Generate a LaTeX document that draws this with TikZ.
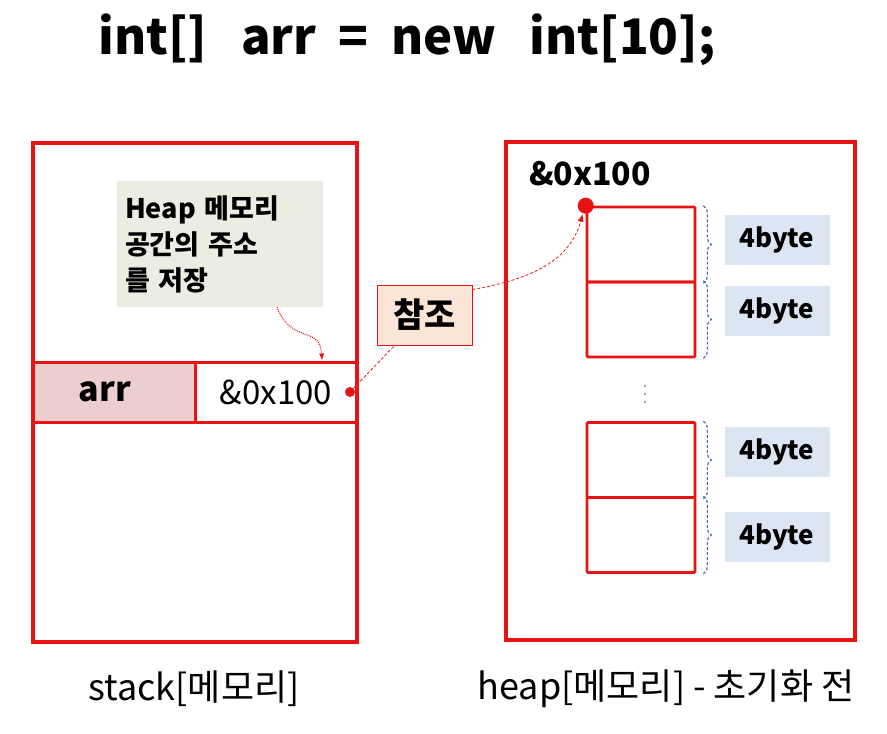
\documentclass[tikz,border=0pt]{standalone}
\usepackage{fontspec}
\setmainfont{Noto Sans CJK KR}
\usetikzlibrary{arrows.meta,decorations.pathreplacing,positioning}

\definecolor{memred}{RGB}{232,20,20}
\definecolor{arrfill}{RGB}{236,206,206}
\definecolor{notefill}{RGB}{236,236,226}
\definecolor{reffill}{RGB}{251,229,214}
\definecolor{bytefill}{RGB}{220,230,242}
\definecolor{bracecol}{RGB}{70,100,160}

\tikzset{
  memframe/.style={draw=memred, line width=3.5pt},
  rowcell/.style={draw=memred, line width=3pt, minimum width=162pt, minimum height=60pt, inner sep=0pt},
  heapcell/.style={draw=memred, line width=2.6pt, rounded corners=1pt, minimum width=108pt, minimum height=75pt, inner sep=0pt},
  bytebox/.style={fill=bytefill, minimum width=105pt, minimum height=50pt, inner sep=0pt,
    font=\bfseries\fontsize{26}{26}\selectfont},
  bytebrace/.style={draw=bracecol, dash pattern=on 3pt off 2pt, line width=1.1pt, decorate,
    decoration={brace, amplitude=8pt}},
  refline/.style={draw=memred, densely dashed, line width=0.8pt},
  memlabel/.style={font=\fontsize{36}{36}\selectfont}
}

\begin{document}
\begin{tikzpicture}[x=1pt, y=-1pt]
  \useasboundingbox (0,0) rectangle (887,734);

  % Title
  \node[font=\bfseries\fontsize{49}{49}\selectfont] (title) at (407,40) {int[]\ \ \ arr\ \ =\ \ new\ \ \ int[10];};

  % Stack memory
  \draw[memframe] (33,143) rectangle (357,642);
  \node[rowcell, fill=arrfill] (arr) at (114,392) {};
  \node[font=\bfseries\fontsize{34}{34}\selectfont] (arrtext) at (105,392) {arr};
  \node[rowcell, font=\fontsize{33}{33}\selectfont] (addr) at (276,392) {\&0x100};
  \fill[memred] (350,392) circle (5pt) coordinate (addrdot);
  \node[fill=notefill, minimum width=206pt, minimum height=126pt, text width=190pt, align=left,
    font=\bfseries\fontsize{27}{36}\selectfont] (note) at (220,244) {Heap 메모리\\공간의 주소\\를 저장};
  \draw[memred, densely dotted, line width=1pt, -{Latex[length=7pt]}]
    ([xshift=57pt]note.south) .. controls (292,345) and (320,325) .. ([xshift=46pt]addr.north);
  \node[memlabel] (stacklabel) at (194,689) {stack[메모리]};

  % Heap memory
  \draw[memframe] (506,142) rectangle (855,640);
  \node[font=\bfseries\fontsize{32}{32}\selectfont] (heapaddr) at (590,174) {\&0x100};
  \foreach \y/\n in {244.5/c1, 319.5/c2, 460/c3, 535/c4} {
    \node[heapcell] (\n) at (641,\y) {};
  }
  \foreach \n/\y in {c1/240, c2/311, c3/452, c4/537} {
    % brace and size box for every cell
    \draw[bytebrace] ([xshift=7pt]\n.north east) -- ([xshift=7pt]\n.south east);
    \node[bytebox] (b\n) at (777,\y) {4byte};
  }
  \foreach \y in {386,394,402} {
    \fill[gray] (645,\y) circle (1.2pt);
  }
  \fill[memred] (c1.north west) circle (8pt) coordinate (heapdot);
  \node[memlabel] (heaplabel) at (666,689) {heap[메모리] - 초기화 전};

  % Reference
  \node[draw=memred, fill=reffill, line width=1pt, minimum width=95pt, minimum height=60pt,
    font=\bfseries\fontsize{34}{34}\selectfont] (ref) at (424.5,315) {참조};
  \draw[refline] (addrdot) -- ([xshift=18pt]ref.south west);
  \draw[refline, -{Latex[length=8pt]}] ([yshift=-5pt]ref.north east) to[out=10, in=-105] ([shift={(-3pt,-8pt)}]heapdot);
\end{tikzpicture}
\end{document}
